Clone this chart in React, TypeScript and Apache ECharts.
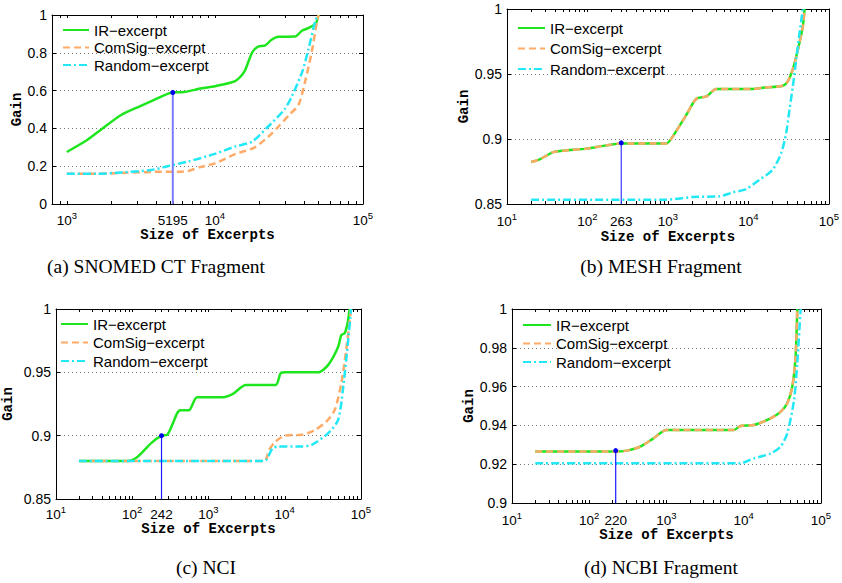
import React, { useEffect, useRef } from 'react';
import * as echarts from 'echarts';

// ---------- data: [size of excerpt, gain] ----------
// (a) SNOMED CT Fragment
const snomedIR = [[1000,0.275],[1380,0.34],[1700,0.393],[2340,0.472],[3160,0.519],[3890,0.551],[4790,0.583],[5195,0.59],[6170,0.592],[8130,0.612],[10000,0.623],[13800,0.652],[15800,0.70],[17800,0.80],[19500,0.832],[21900,0.839],[24000,0.868],[26900,0.885],[34700,0.886],[38900,0.918],[42700,0.93],[47900,0.955],[50100,1.0]];
const snomedComSig = [[1000,0.16],[1580,0.16],[2510,0.165],[3980,0.17],[5620,0.17],[6610,0.175],[7940,0.195],[10000,0.215],[13800,0.265],[18600,0.30],[24000,0.37],[26900,0.41],[31600,0.47],[36700,0.525],[40700,0.65],[45200,0.81],[49000,0.97],[50100,1.0]];
const snomedRandom = [[1000,0.16],[1580,0.16],[2340,0.167],[3720,0.18],[4790,0.2],[6610,0.225],[10000,0.265],[13800,0.305],[17800,0.33],[22900,0.41],[29500,0.5],[33100,0.57],[38900,0.70],[42700,0.815],[47900,0.975],[50100,1.0]];

// (b) MESH Fragment
const meshIR = [[20,0.8823],[25,0.8841],[37,0.8897],[50,0.891],[97,0.8926],[171,0.8951],[263,0.8966],[955,0.8966],[1150,0.902],[1700,0.9187],[2240,0.9308],[3020,0.9328],[3980,0.9385],[11400,0.9385],[15100,0.9395],[26900,0.941],[30900,0.9444],[35500,0.9533],[41200,0.9687],[47500,0.9867],[49900,1.0]];
const meshComSig = [[20,0.8823],[25,0.8841],[37,0.8897],[50,0.891],[97,0.8926],[171,0.8951],[263,0.8966],[955,0.8966],[1150,0.902],[1700,0.9187],[2240,0.9308],[3020,0.9328],[3980,0.9385],[11400,0.9385],[15100,0.9395],[26900,0.941],[30900,0.9444],[35500,0.9533],[41200,0.9687],[47500,0.9867],[49900,1.0]];
const meshRandom = [[20,0.8533],[955,0.8533],[2040,0.8554],[4370,0.8559],[6460,0.859],[9330,0.8615],[13800,0.8687],[20000,0.8764],[25600,0.8892],[29500,0.9046],[32400,0.9226],[35700,0.9405],[39300,0.961],[43200,0.9815],[47500,1.0]];

// (c) NCI
const nciIR = [[20,0.88],[88,0.88],[119,0.8836],[177,0.8941],[242,0.90],[288,0.9007],[389,0.9178],[431,0.92],[552,0.92],[708,0.9304],[1550,0.9304],[2090,0.933],[3090,0.94],[7590,0.94],[8830,0.9493],[10200,0.95],[27500,0.95],[37200,0.9559],[50100,0.970],[55200,0.9795],[61000,0.9808],[67300,0.99],[70800,1.0]];
const nciComSig = [[20,0.88],[5370,0.88],[6250,0.8889],[7590,0.8954],[10200,0.9002],[16800,0.9007],[25100,0.9046],[35300,0.9112],[45300,0.9204],[55200,0.9414],[64000,0.9677],[74100,1.0]];
const nciRandom = [[20,0.88],[5370,0.88],[6920,0.89],[8320,0.8915],[16800,0.8915],[22600,0.8928],[37200,0.902],[50100,0.9125],[57900,0.9362],[67300,0.973],[74100,1.0]];

// (d) NCBI Fragment
const ncbiIR = [[20,0.9265],[220,0.9265],[305,0.927],[455,0.929],[676,0.9333],[1000,0.9376],[7410,0.9376],[9060,0.9397],[13500,0.9402],[22200,0.9436],[29900,0.947],[36600,0.9514],[42500,0.96],[46900,0.9755],[49300,1.0]];
const ncbiComSig = [[20,0.9265],[220,0.9265],[305,0.927],[455,0.929],[676,0.9333],[1000,0.9376],[7410,0.9376],[9060,0.9397],[13500,0.9402],[22200,0.9436],[29900,0.947],[36600,0.9514],[42500,0.96],[46900,0.9755],[49300,1.0]];
const ncbiRandom = [[20,0.9205],[9060,0.9205],[13500,0.923],[22200,0.9255],[29900,0.929],[36600,0.9359],[44700,0.953],[49300,0.972],[54500,1.0]];

// highlighted excerpt size and its gain
const markerSize = [5195, 263, 242, 220];
const markerGain = [0.59, 0.897, 0.90, 0.927];

// axis ranges (x in powers of ten)
const xMinExp = [2.9, 1, 1, 1];
const xMaxExp = [5, 5, 5, 5];
const yMin = [0, 0.85, 0.85, 0.9];
const yMax = [1, 1, 1, 1];
const yStep = [0.2, 0.05, 0.05, 0.02];

const seriesNames = ['IR\u2212excerpt', 'ComSig\u2212excerpt', 'Random\u2212excerpt'];
const captions = ['(a) SNOMED CT Fragment', '(b) MESH Fragment', '(c) NCI', '(d) NCBI Fragment'];
const xName = 'Size of Excerpts';
const yName = 'Gain';

const panelData = [
  [snomedIR, snomedComSig, snomedRandom],
  [meshIR, meshComSig, meshRandom],
  [nciIR, nciComSig, nciRandom],
  [ncbiIR, ncbiComSig, ncbiRandom],
];

// ---------- layout ----------
const layout = [
  { grid: { left: 52, top: 15, width: 311, height: 189 }, legend: { left: 62, top: 22, gap: 1.5, w: 26 }, yGap: 27, xGap: 23, lblMargin: 6, cap: [156, 266], mColor: '#7b7bff', mWidth: 2 },
  { grid: { left: 507, top: 9, width: 322, height: 195 }, legend: { left: 517, top: 20, gap: 4.5, w: 27 }, yGap: 33, xGap: 26, lblMargin: 7, cap: [661, 266], mColor: '#3a3aff', mWidth: 1.2 },
  { grid: { left: 50, top: 309, width: 311, height: 190 }, legend: { left: 60, top: 316, gap: 2.5, w: 27 }, yGap: 41, xGap: 22, lblMargin: 5, cap: [206, 567], mColor: '#1a1aff', mWidth: 1.2 },
  { grid: { left: 512, top: 309, width: 309, height: 194 }, legend: { left: 522, top: 317, gap: 2.5, w: 28 }, yGap: 35, xGap: 22, lblMargin: 7, cap: [661, 567], mColor: '#1a1aff', mWidth: 1.2 },
];

const lineColors = ['#1ee61e', '#ffaa66', '#22e8f5'];
const lineTypes: any[] = ['solid', [7, 4], [8, 3, 2, 3]];

const SANS = 'Liberation Sans';
const MONO = 'Liberation Mono';

function logTicks(minE: number, maxE: number, extra: number | null) {
  const ticks: number[] = [];
  for (let e = Math.floor(minE); e <= maxE; e++) {
    for (let k = 1; k <= 9; k++) {
      const v = e + Math.log10(k);
      if (v >= minE - 1e-9 && v <= maxE + 1e-9) ticks.push(v);
    }
  }
  if (extra !== null) ticks.push(extra);
  return ticks;
}

function majorLabels(minE: number, maxE: number, extra: number) {
  const labels: number[] = [];
  for (let e = Math.ceil(minE); e <= maxE; e++) labels.push(e);
  labels.push(extra);
  return labels.sort((a, b) => a - b);
}

export default function App() {
  const ref = useRef<HTMLDivElement>(null);
  useEffect(() => {
    document.body.style.margin = '0';
    if (!ref.current) return;
    const chart = echarts.init(ref.current, undefined, { renderer: 'svg' });

    const grids: any[] = [];
    const xAxes: any[] = [];
    const yAxes: any[] = [];
    const legends: any[] = [];
    const series: any[] = [];
    const graphics: any[] = [];

    layout.forEach((L, i) => {
      grids.push({ ...L.grid, containLabel: false });
      const mx = Math.log10(markerSize[i]);
      const ticks = logTicks(xMinExp[i], xMaxExp[i], mx);
      const labels = majorLabels(xMinExp[i], xMaxExp[i], mx);
      const labelRich = {
        b: { fontSize: 13.5, fontFamily: SANS, color: '#000', lineHeight: 20, verticalAlign: 'middle' },
        s: { fontSize: 9.5, fontFamily: SANS, color: '#000', lineHeight: 10, verticalAlign: 'top' },
      };
      const axisLine = { show: true, onZero: false, lineStyle: { color: '#000', width: 1 } };
      xAxes.push({
        gridIndex: i, type: 'value', position: 'bottom', min: xMinExp[i], max: xMaxExp[i],
        name: xName, nameLocation: 'middle', nameGap: L.xGap,
        nameTextStyle: { fontFamily: MONO, fontWeight: 'bold', fontSize: 14, color: '#000' },
        axisLine,
        axisTick: { show: true, inside: true, length: 3, customValues: ticks, lineStyle: { color: '#000' } },
        axisLabel: {
          customValues: labels, margin: L.lblMargin, rich: labelRich,
          formatter: (v: number) => Math.abs(v - Math.round(v)) < 1e-6
            ? `{b|10}{s|${Math.round(v)}}`
            : `{b|${Math.round(Math.pow(10, v))}}`,
        },
        splitLine: { show: false },
      });
      xAxes.push({
        gridIndex: i, type: 'value', position: 'top', min: xMinExp[i], max: xMaxExp[i],
        axisLine,
        axisTick: { show: true, inside: true, length: 3, customValues: ticks, lineStyle: { color: '#000' } },
        axisLabel: { show: false },
        splitLine: { show: false },
      });
      yAxes.push({
        gridIndex: i, type: 'value', position: 'left', min: yMin[i], max: yMax[i], interval: yStep[i],
        name: yName, nameLocation: 'middle', nameGap: L.yGap, nameRotate: 90,
        nameTextStyle: { fontFamily: MONO, fontWeight: 'bold', fontSize: 14, color: '#000' },
        axisLine,
        axisTick: { show: true, inside: true, length: 4, lineStyle: { color: '#000' } },
        axisLabel: { fontSize: 14, fontFamily: SANS, color: '#000', margin: 5 },
        splitLine: { show: true, lineStyle: { color: '#777', type: [1, 3], width: 1 } },
      });
      yAxes.push({
        gridIndex: i, type: 'value', position: 'right', min: yMin[i], max: yMax[i], interval: yStep[i],
        axisLine,
        axisTick: { show: true, inside: true, length: 4, lineStyle: { color: '#000' } },
        axisLabel: { show: false },
        splitLine: { show: false },
      });
      legends.push({
        data: seriesNames, orient: 'vertical', left: L.legend.left, top: L.legend.top,
        padding: 0,
        itemWidth: L.legend.w, itemHeight: 12, itemGap: L.legend.gap,
        textStyle: { fontSize: 15, fontFamily: SANS, color: '#000', lineHeight: 16 },
        itemStyle: { opacity: 0, borderWidth: 0 },
        selectedMode: false,
      });
      panelData[i].forEach((pts, k) => {
        series.push({
          type: 'line', name: seriesNames[k], xAxisIndex: 2 * i, yAxisIndex: 2 * i,
          data: pts.map(([s, g]) => [Math.log10(s), g]),
          symbol: 'none', showSymbol: false, smooth: 0.25,
          lineStyle: { color: lineColors[k], width: 2.5, type: lineTypes[k] },
          itemStyle: { color: lineColors[k] },
          z: 2 + k,
        });
      });
      series.push({
        type: 'line', xAxisIndex: 2 * i, yAxisIndex: 2 * i,
        data: [[mx, yMin[i]], [mx, markerGain[i]]],
        symbol: 'circle', showSymbol: true,
        symbolSize: (_v: any, p: any) => (p.dataIndex === 1 ? 5 : 0),
        lineStyle: { color: L.mColor, width: L.mWidth },
        itemStyle: { color: '#0000ee' },
        z: 6, silent: true, clip: false,
      });
      graphics.push({
        type: 'text', x: L.cap[0], y: L.cap[1],
        style: {
          text: captions[i], font: '19.5px "Liberation Serif"', fill: '#000',
          textAlign: 'center', textVerticalAlign: 'middle', align: 'center', verticalAlign: 'middle',
        },
      });
    });

    chart.setOption({
      animation: false,
      backgroundColor: '#fff',
      grid: grids,
      xAxis: xAxes,
      yAxis: yAxes,
      legend: legends,
      series,
      graphic: graphics,
    });
    return () => chart.dispose();
  }, []);
  return <div ref={ref} style={{ width: 842, height: 583 }} />;
}
